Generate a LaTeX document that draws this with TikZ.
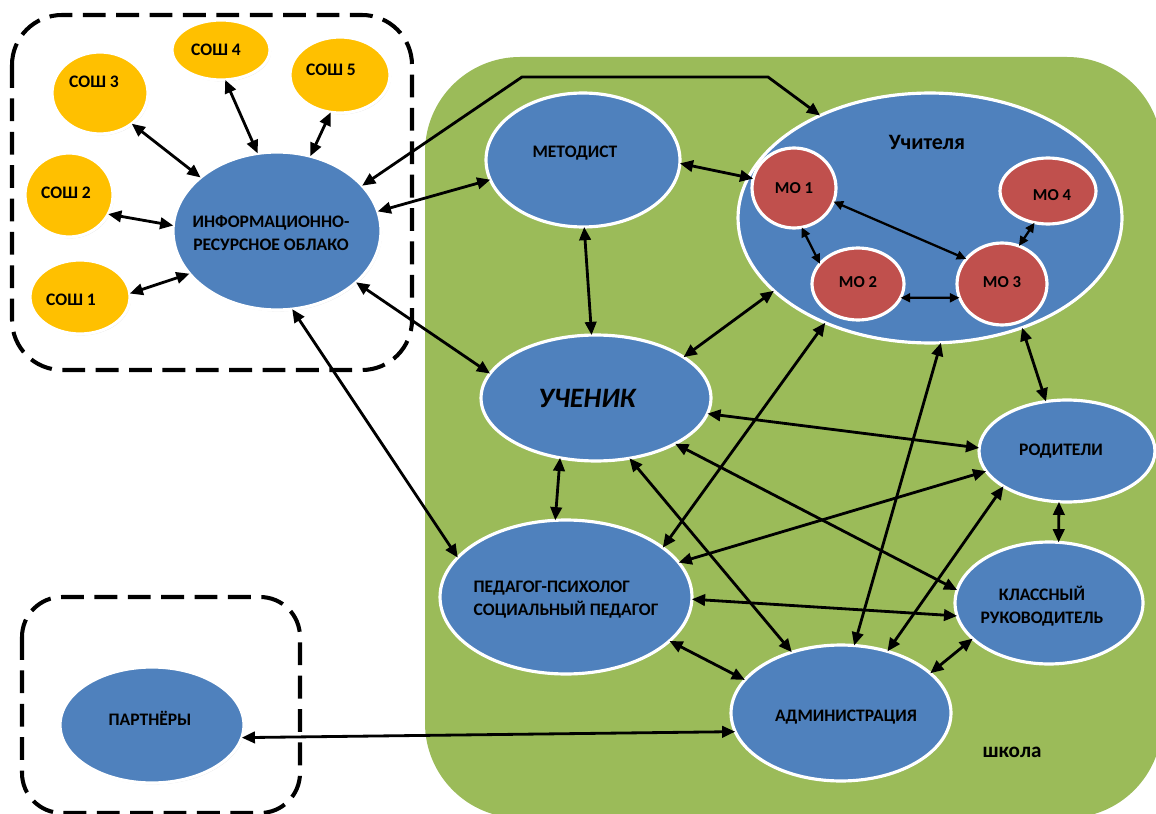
\documentclass[tikz,border=0pt]{standalone}
\usepackage{fontspec}
\setmainfont{Carlito}
\usetikzlibrary{shapes.geometric,arrows.meta,shadows}
\definecolor{bl}{HTML}{4F81BD}
\definecolor{gr}{HTML}{9BBB59}
\definecolor{yl}{HTML}{FFC000}
\definecolor{rd}{HTML}{C0504D}
\begin{document}
\begin{tikzpicture}[x=0.02cm,y=-0.02cm,
 ell/.style={ellipse, draw=white, line width=1.8pt, inner sep=0pt, outer sep=0pt,
   drop shadow={opacity=0.25,shadow xshift=0.6pt,shadow yshift=-0.8pt}},
 blueell/.style={ell, fill=bl},
 yell/.style={ell, fill=yl},
 redell/.style={ell, fill=rd},
 every label/.style={inner sep=0pt, text=black, align=center, font=\bfseries\fontsize{10}{13}\selectfont},
 molab/.style={font=\bfseries\fontsize{9.5}{12}\selectfont},
 con/.style={{Triangle[length=7.5pt,width=6.5pt]}-{Triangle[length=7.5pt,width=6.5pt]}, line width=1.6pt, draw=black},
 cons/.style={{Triangle[length=5.5pt,width=5pt]}-{Triangle[length=5.5pt,width=5pt]}, line width=1.3pt, draw=black},
 dbox/.style={draw=black, line width=2.3pt, dash pattern=on 13pt off 6pt, rounded corners=1cm}
]
\useasboundingbox (0,0) rectangle (1156,814);
\clip (0,0) rectangle (1156,814);
\fill[white] (0,0) rectangle (1156,814);
% school area
\fill[gr, rounded corners=1.9cm] (425,57) rectangle (1162,818);
% dashed groups
\draw[dbox] (12,15) rectangle (412,370);
\draw[dbox, rounded corners=0.8cm] (22,597) rectangle (300,813);

% nodes
\node[yell, minimum width=1.92cm, minimum height=1.64cm, label={[xshift=-0.12cm,yshift=0.22cm]center:СОШ 3}] (s3) at (100,93) {};
\node[yell, minimum width=1.96cm, minimum height=1.2cm, label={[xshift=-0.1cm]center:СОШ 4}] (s4) at (221,50) {};
\node[yell, minimum width=2.0cm, minimum height=1.52cm, label={[xshift=-0.18cm,yshift=0.1cm]center:СОШ 5}] (s5) at (340,75) {};
\node[yell, minimum width=1.76cm, minimum height=1.68cm, label={[xshift=-0.06cm,yshift=0.04cm]center:СОШ 2}] (s2) at (69,195) {};
\node[yell, minimum width=2.0cm, minimum height=1.48cm, label={[xshift=-0.18cm,yshift=-0.06cm]center:СОШ 1}] (s1) at (80,297) {};
\node[blueell, minimum width=4.16cm, minimum height=3.16cm, label={[xshift=-0.12cm,yshift=-0.04cm]center:ИНФОРМАЦИОННО-\\РЕСУРСНОЕ ОБЛАКО}] (cloud) at (277,231) {};
\node[blueell, minimum width=3.88cm, minimum height=2.68cm, label={[xshift=-0.16cm,yshift=0.14cm]center:МЕТОДИСТ}] (met) at (583,160) {};
\node[blueell, minimum width=7.68cm, minimum height=5.0cm, label={[xshift=-0.06cm,yshift=1.52cm,font=\bfseries\fontsize{12.5}{15}\selectfont]center:Учителя}] (uch) at (930,218) {};
\node[redell, minimum width=1.68cm, minimum height=1.6cm, label={[molab]center:МО 1}] (mo1) at (794,188) {};
\node[redell, minimum width=1.84cm, minimum height=1.44cm, label={[molab,yshift=0.04cm]center:МО 2}] (mo2) at (858,284) {};
\node[redell, minimum width=1.8cm, minimum height=1.64cm, label={[molab,yshift=0.04cm]center:МО 3}] (mo3) at (1002,284) {};
\node[redell, minimum width=1.92cm, minimum height=1.32cm, label={[molab,xshift=0.08cm,yshift=-0.08cm]center:МО 4}] (mo4) at (1048,191) {};
\node[blueell, minimum width=4.6cm, minimum height=2.52cm, label={[xshift=-0.18cm,font=\bfseries\itshape\fontsize{16}{19}\selectfont]center:УЧЕНИК}] (uchenik) at (596,398) {};
\node[blueell, minimum width=3.52cm, minimum height=2.04cm, label={[xshift=-0.12cm]center:РОДИТЕЛИ}] (rod) at (1067,451) {};
\node[blueell, minimum width=5.04cm, minimum height=3.08cm, label={[align=left,yshift=-0.06cm]center:ПЕДАГОГ-ПСИХОЛОГ\\СОЦИАЛЬНЫЙ ПЕДАГОГ}] (ped) at (566,597) {};
\node[blueell, minimum width=3.76cm, minimum height=2.44cm, label={[xshift=-0.14cm,yshift=-0.06cm]center:КЛАССНЫЙ\\РУКОВОДИТЕЛЬ}] (kl) at (1049,603) {};
\node[blueell, minimum width=4.4cm, minimum height=2.72cm, label={[xshift=0.1cm,yshift=-0.08cm]center:АДМИНИСТРАЦИЯ}] (adm) at (841,713) {};
\node[blueell, minimum width=3.68cm, minimum height=2.32cm, label={[xshift=-0.04cm,yshift=0.14cm]center:ПАРТНЁРЫ}] (part) at (152,725) {};
\node[font=\bfseries\fontsize{12}{14}\selectfont, inner sep=0pt] (school) at (1012,752) {школа};

% connectors
\draw[con] (s3.-44) -- (cloud.145.6);
\draw[con] (s4.-82) -- (cloud.104.6);
\draw[con] (s5.-104) -- (cloud.66.6);
\draw[con] (s2.-26) -- (cloud.177.3);
\draw[con] (s1.4.6) -- (cloud.-154);
\draw[con] (cloud.28) -- (522,77) -- (768,77) -- (uch.137);
\draw[con] (cloud.11.3) -- (met.-168);
\draw[con] (cloud.-33) -- (uchenik.167);
\draw[con] (cloud.-79.8) -- (ped.160);
\draw[con] (met.-2) -- (mo1.167);
\draw[con] (met.-89) -- (uchenik.94.5);
\draw[cons] (mo1.-19.4) -- (mo3.145);
\draw[cons] (mo1.-79) -- (mo2.152);
\draw[cons] (mo2.-18) -- (mo3.-162);
\draw[cons] (mo3.66) -- (mo4.-113);
\draw[con] (uch.-155) -- (uchenik.25.5);
\draw[con] (uch.-135) -- (ped.27.8);
\draw[con] (uch.-85) -- (adm.79.5);
\draw[con] (uch.-50) -- (rod.113.5);
\draw[con] (uchenik.-8.3) -- (rod.178);
\draw[con] (uchenik.-30) -- (kl.172);
\draw[con] (uchenik.-61.7) -- (adm.129);
\draw[con] (uchenik.-121.6) -- (ped.98);
\draw[con] (ped.17.8) -- (rod.-166.6);
\draw[con] (ped.-1.3) -- (kl.-172.7);
\draw[con] (ped.-23.5) -- (adm.161);
\draw[con] (rod.-151) -- (adm.53);
\draw[con] (rod.-99.8) -- (kl.81.5);
\draw[con] (kl.-155.7) -- (adm.24.3);
\draw[con] (part.-8) -- (adm.-170);
\end{tikzpicture}
\end{document}
